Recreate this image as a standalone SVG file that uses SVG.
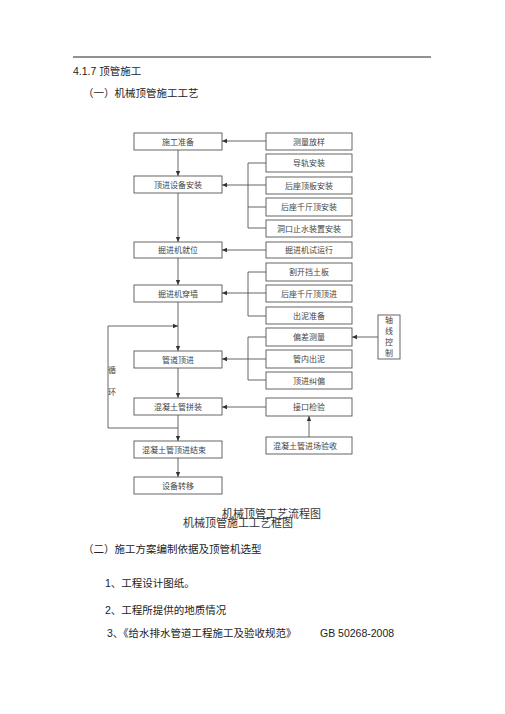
<svg xmlns="http://www.w3.org/2000/svg" width="505" height="714" viewBox="0 0 505 714">
<defs>
<style>
.b{fill:#fff;stroke:#555;stroke-width:0.9}
.t{font-family:"Liberation Serif","Noto Sans CJK SC",serif;font-size:8px;fill:#444;text-anchor:middle}
.c{fill:none;stroke:#555;stroke-width:0.9}
.h{font-family:"Liberation Sans","Noto Sans CJK SC",sans-serif;font-size:10.5px;fill:#222}
.cap{font-family:"Liberation Serif","Noto Sans CJK SC",serif;font-size:11px;fill:#333}
</style>
<marker id="a" markerWidth="6" markerHeight="6" refX="5" refY="3" orient="auto" markerUnits="userSpaceOnUse">
<path d="M0,0.8 L5,3 L0,5.2 Z" fill="#333"/>
</marker>
</defs>
<rect width="505" height="714" fill="#fff"/>
<line x1="73" y1="57" x2="431" y2="57" stroke="#222" stroke-width="1"/>
<text class="h" x="73" y="75">4.1.7 顶管施工</text>
<text class="h" x="83" y="97">（一）机械顶管施工工艺</text>

<g id="connectors">
<line class="c" x1="178" y1="150" x2="178" y2="176" marker-end="url(#a)"/>
<line class="c" x1="178" y1="193" x2="178" y2="242" marker-end="url(#a)"/>
<line class="c" x1="178" y1="258" x2="178" y2="285" marker-end="url(#a)"/>
<line class="c" x1="178" y1="302" x2="178" y2="351" marker-end="url(#a)"/>
<line class="c" x1="178" y1="368" x2="178" y2="398" marker-end="url(#a)"/>
<line class="c" x1="178" y1="415" x2="178" y2="441" marker-end="url(#a)"/>
<line class="c" x1="178" y1="458" x2="178" y2="477" marker-end="url(#a)"/>
<line class="c" x1="266" y1="141" x2="222" y2="141" marker-end="url(#a)"/>
<line class="c" x1="266" y1="185" x2="222" y2="185" marker-end="url(#a)"/>
<line class="c" x1="266" y1="250" x2="222" y2="250" marker-end="url(#a)"/>
<line class="c" x1="266" y1="293" x2="222" y2="293" marker-end="url(#a)"/>
<line class="c" x1="266" y1="359" x2="222" y2="359" marker-end="url(#a)"/>
<line class="c" x1="266" y1="407" x2="222" y2="407" marker-end="url(#a)"/>
<polyline class="c" points="266,163 248,163 248,228 266,228"/>
<line class="c" x1="248" y1="207" x2="266" y2="207"/>
<polyline class="c" points="266,272 248,272 248,316 266,316"/>
<polyline class="c" points="266,337 248,337 248,380 266,380"/>
<line class="c" x1="378" y1="337" x2="352" y2="337" marker-end="url(#a)"/>
<line class="c" x1="309" y1="437" x2="309" y2="416" marker-end="url(#a)"/>
<polyline class="c" points="178,428 108,428 108,326 178,326" marker-end="url(#a)"/>
<text class="t" x="112" y="373">循</text>
<text class="t" x="112" y="395">环</text>
</g>

<g id="n1"><rect class="b" x="134" y="133" width="88" height="17"/><text class="t" x="178" y="144.5">施工准备</text></g>
<g id="n2"><rect class="b" x="134" y="176" width="88" height="17"/><text class="t" x="178" y="187.5">顶进设备安装</text></g>
<g id="n3"><rect class="b" x="134" y="242" width="88" height="16"/><text class="t" x="178" y="253">掘进机就位</text></g>
<g id="n4"><rect class="b" x="134" y="285" width="88" height="17"/><text class="t" x="178" y="296.5">掘进机穿墙</text></g>
<g id="n5"><rect class="b" x="134" y="351" width="88" height="17"/><text class="t" x="178" y="362.5">管道顶进</text></g>
<g id="n6"><rect class="b" x="134" y="398" width="88" height="17"/><text class="t" x="178" y="409.5">混凝土管拼装</text></g>
<g id="n7"><rect class="b" x="134" y="441" width="88" height="17"/><text class="t" x="174" y="452.5">混凝土管顶进结束</text></g>
<g id="n8"><rect class="b" x="134" y="477" width="88" height="17"/><text class="t" x="178" y="488.5">设备转移</text></g>

<g id="r1"><rect class="b" x="266" y="133" width="86" height="17"/><text class="t" x="309" y="144.5">测量放样</text></g>
<g id="r2"><rect class="b" x="266" y="154" width="86" height="18"/><text class="t" x="309" y="166">导轨安装</text></g>
<g id="r3"><rect class="b" x="266" y="177" width="86" height="17"/><text class="t" x="309" y="188.5">后座顶板安装</text></g>
<g id="r4"><rect class="b" x="266" y="198" width="86" height="18"/><text class="t" x="309" y="210">后座千斤顶安装</text></g>
<g id="r5"><rect class="b" x="266" y="220" width="86" height="17"/><text class="t" x="309" y="231.5">洞口止水装置安装</text></g>
<g id="r6"><rect class="b" x="266" y="242" width="86" height="16"/><text class="t" x="309" y="253">掘进机试运行</text></g>
<g id="r7"><rect class="b" x="266" y="263" width="86" height="18"/><text class="t" x="309" y="275">割开挡土板</text></g>
<g id="r8"><rect class="b" x="266" y="285" width="86" height="17"/><text class="t" x="309" y="296.5">后座千斤顶顶进</text></g>
<g id="r9"><rect class="b" x="266" y="307" width="86" height="17"/><text class="t" x="309" y="318.5">出泥准备</text></g>
<g id="r10"><rect class="b" x="266" y="328" width="86" height="18"/><text class="t" x="309" y="340">偏差测量</text></g>
<g id="r11"><rect class="b" x="266" y="350" width="86" height="18"/><text class="t" x="309" y="362">管内出泥</text></g>
<g id="r12"><rect class="b" x="266" y="372" width="86" height="17"/><text class="t" x="309" y="383.5">顶进纠偏</text></g>
<g id="r13"><rect class="b" x="266" y="398" width="86" height="18"/><text class="t" x="309" y="410">接口检验</text></g>
<g id="r14"><rect class="b" x="266" y="437" width="86" height="17"/><text class="t" x="305" y="448.5">混凝土管进场验收</text></g>
<g id="r15"><rect class="b" x="378" y="315" width="22" height="44"/>
<text class="t" x="389" y="323">轴</text><text class="t" x="389" y="334">线</text><text class="t" x="389" y="345">控</text><text class="t" x="389" y="356">制</text></g>

<text class="cap" x="222" y="518">机械顶管工艺流程图</text>
<text class="cap" x="183" y="527">机械顶管施工工艺框图</text>

<text class="h" x="83" y="553">（二）施工方案编制依据及顶管机选型</text>
<text class="h" x="105" y="587">1、工程设计图纸。</text>
<text class="h" x="105" y="614">2、工程所提供的地质情况</text>
<text class="h" x="107" y="637">3、《给水排水管道工程施工及验收规范》</text>
<text class="h" x="320" y="637">GB 50268-2008</text>
</svg>
